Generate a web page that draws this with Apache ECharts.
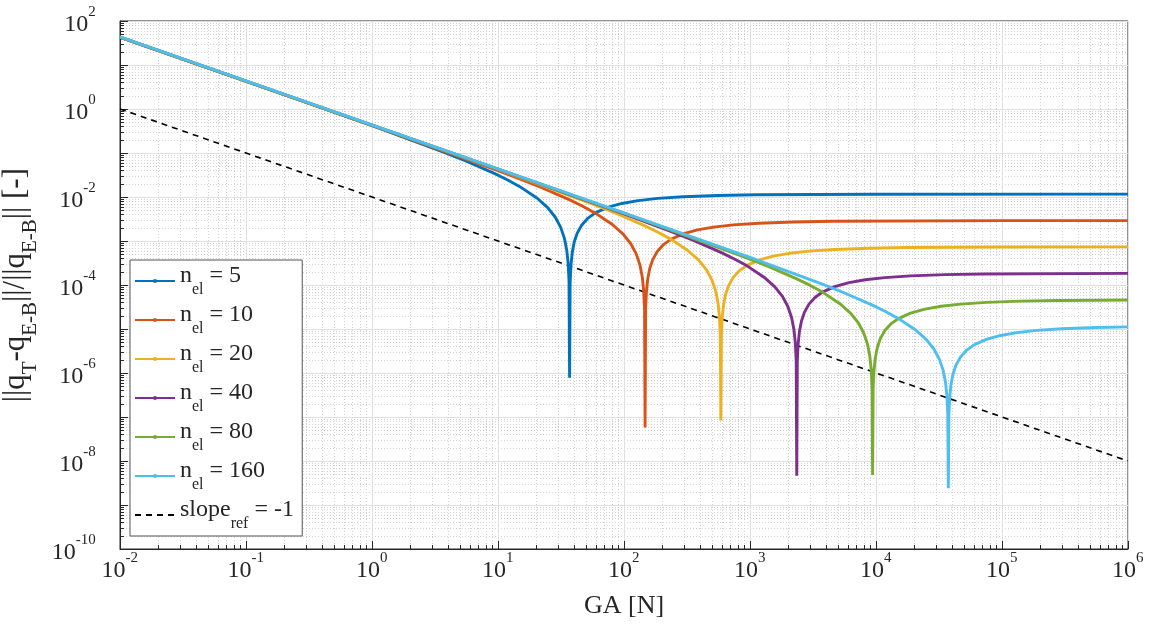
<!DOCTYPE html>
<html>
<head>
<meta charset="utf-8">
<script src="https://cdn.jsdelivr.net/npm/echarts@6/dist/echarts.min.js"></script>
<style>
  html, body { margin: 0; padding: 0; background: #fff; }
  #chart { width: 1151px; height: 633px; }
</style>
</head>
<body>
<div id="chart"></div>
<script>
// GA [N] samples and relative error per mesh size
const gaN5 = [0.01, 0.1, 1, 3.7, 5.55, 9.25, 11.84, 14.8, 20.35, 24.79, 28.49, 31.45, 33.67, 35.15, 36.08, 36.63, 37, 37.37, 37.93, 38.85, 40.33, 42.55, 46.25, 51.8, 59.2, 74, 96.2, 129.5, 185, 296, 555, 1110, 10000, 1000000];
const errN5 = [42.9, 4.28, 0.4176, 0.1044, 0.0658, 0.0348, 0.02465, 0.0174, 0.00949, 0.00572, 0.00347, 0.00204, 0.001147, 0.00061, 0.000297, 0.000117, 7.8e-7, 0.000115, 0.000283, 0.000552, 0.000958, 0.001508, 0.00232, 0.00332, 0.00435, 0.0058, 0.00713, 0.00828, 0.00928, 0.01015, 0.01082, 0.01122, 0.01156, 0.0116];

const gaN10 = [0.01, 0.1, 1, 10, 14.7, 22.05, 36.75, 47.04, 58.8, 80.85, 98.49, 113.2, 124.95, 133.77, 139.65, 143.33, 145.53, 147, 148.47, 150.68, 154.35, 160.23, 169.05, 183.75, 205.8, 235.2, 294, 382.2, 514.5, 735, 1176, 2205, 4410, 100000, 1000000];
const errN10 = [42.6, 4.26, 0.4234, 0.0397, 0.0261, 0.01644, 0.0087, 0.00616, 0.00435, 0.002372, 0.00143, 0.000867, 0.00051, 0.000287, 0.0001525, 7.42e-5, 2.93e-5, 5.8e-8, 2.87e-5, 7.08e-5, 0.000138, 0.00024, 0.000377, 0.00058, 0.000829, 0.001088, 0.00145, 0.001784, 0.00207, 0.00232, 0.002538, 0.002706, 0.002804, 0.0029, 0.0029];

const gaN20 = [0.01, 0.1, 1, 10, 58.7, 88.05, 146.75, 187.84, 234.8, 322.85, 393.29, 451.99, 498.95, 534.17, 557.65, 572.33, 581.13, 587, 592.87, 601.68, 616.35, 639.83, 675.05, 733.75, 821.8, 939.2, 1174, 1526.2, 2054.5, 2935, 4696, 8805, 17610, 100000, 1000000];
const errN20 = [43.1, 4.31, 0.4307, 0.0424, 0.006615, 0.004167, 0.002205, 0.001562, 0.0011025, 0.000601, 0.000362, 0.00022, 0.0001294, 7.27e-5, 3.87e-5, 1.88e-5, 7.42e-6, 8.3e-8, 7.28e-6, 1.79e-5, 3.5e-5, 6.07e-5, 9.56e-5, 0.000147, 0.00021, 0.000276, 0.000368, 0.000452, 0.000525, 0.000588, 0.000643, 0.000686, 0.000711, 0.000731, 0.000735];

const gaN40 = [0.01, 0.1, 1, 10, 100, 235, 352.5, 587.5, 752, 940, 1292.5, 1574.5, 1809.5, 1997.5, 2138.5, 2232.5, 2291.25, 2326.5, 2350, 2373.5, 2408.75, 2467.5, 2561.5, 2702.5, 2937.5, 3290, 3760, 4700, 6110, 8225, 11750, 18800, 35250, 70500, 1000000];
const errN40 = [43.2, 4.32, 0.432, 0.0432, 0.00414, 0.001656, 0.001043, 0.000552, 0.000391, 0.000276, 0.0001505, 9.07e-5, 5.5e-5, 3.24e-5, 1.82e-5, 9.68e-6, 4.71e-6, 1.86e-6, 4.6e-9, 1.82e-6, 4.49e-6, 8.76e-6, 1.52e-5, 2.39e-5, 3.68e-5, 5.26e-5, 6.9e-5, 9.2e-5, 0.0001132, 0.0001314, 0.0001472, 0.000161, 0.0001717, 0.0001779, 0.000184];

const gaN80 = [0.01, 0.1, 1, 10, 100, 940, 1410, 2350, 3008, 3760, 5170, 6298, 7238, 7990, 8554, 8930, 9165, 9306, 9400, 9494, 9635, 9870, 10246, 10810, 11750, 13160, 15040, 18800, 24440, 32900, 47000, 75200, 141000, 282000, 1000000];
const errN80 = [43.2, 4.32, 0.432, 0.0432, 0.00427, 0.000414, 0.000261, 0.000138, 9.78e-5, 6.9e-5, 3.76e-5, 2.27e-5, 1.375e-5, 8.1e-6, 4.55e-6, 2.42e-6, 1.18e-6, 4.65e-7, 4.8e-9, 4.55e-7, 1.12e-6, 2.19e-6, 3.8e-6, 5.98e-6, 9.2e-6, 1.316e-5, 1.725e-5, 2.3e-5, 2.83e-5, 3.28e-5, 3.68e-5, 4.03e-5, 4.29e-5, 4.45e-5, 4.56e-5];

const gaN160 = [0.01, 0.1, 1, 10, 100, 1000, 3750, 5625, 9375, 12000, 15000, 20625, 25125, 28875, 31875, 34125, 35625, 36562.5, 37125, 37500, 37875, 38437.5, 39375, 40875, 43125, 46875, 52500, 60000, 75000, 97500, 131250, 187500, 300000, 562500, 1000000];
const errN160 = [43.5, 4.35, 0.435, 0.0435, 0.00434, 0.000423, 0.0001044, 6.58e-5, 3.48e-5, 2.465e-5, 1.74e-5, 9.49e-6, 5.72e-6, 3.47e-6, 2.04e-6, 1.147e-6, 6.1e-7, 2.97e-7, 1.17e-7, 2.4e-9, 1.15e-7, 2.83e-7, 5.52e-7, 9.58e-7, 1.508e-6, 2.32e-6, 3.32e-6, 4.35e-6, 5.8e-6, 7.13e-6, 8.28e-6, 9.28e-6, 1.015e-5, 1.082e-5, 1.12e-5];

// reference slope -1
const gaRef = [0.01, 1000000];
const errRef = [1, 1e-8];

const meshSizes = ['5', '10', '20', '40', '80', '160'];
const meshColors = ['#0072BD', '#D95319', '#EDB120', '#7E2F8E', '#77AC30', '#4DBEEE'];

// axis decades (exponents)
const xDecades = [-2, -1, 0, 1, 2, 3, 4, 5, 6];
const yDecades = [-10, -9, -8, -7, -6, -5, -4, -3, -2, -1, 0, 1, 2];

const FONT = 'Liberation Serif';
const INK = '#262626';

function pairs(xs, ys) {
    return xs.map((x, i) => [x, ys[i]]);
}

// minor grid at 2..9 x 10^k
function minorValues(decades) {
    const out = [];
    for (let i = 0; i < decades.length - 1; i++) {
        for (let m = 2; m <= 9; m++) out.push(m * Math.pow(10, decades[i]));
    }
    return out;
}

// "10" with a raised exponent; sp only sets the line height
const powRich = {
    b: { fontFamily: FONT, fontSize: 24, lineHeight: 24, color: INK, verticalAlign: 'bottom' },
    e: { fontFamily: FONT, fontSize: 15, lineHeight: 15, color: INK, verticalAlign: 'top' },
    sp: { fontSize: 1, lineHeight: 32 }
};

function powLabel(v) {
    return '{b|10}{e|' + Math.round(Math.log10(v)) + '}{sp| }';
}

const chart = echarts.init(document.getElementById('chart'));

const meshData = [
    pairs(gaN5, errN5), pairs(gaN10, errN10), pairs(gaN20, errN20),
    pairs(gaN40, errN40), pairs(gaN80, errN80), pairs(gaN160, errN160)
];

const series = meshData.map((d, i) => ({
    name: 'n' + meshSizes[i],
    type: 'line',
    data: d,
    showSymbol: false,
    symbol: 'circle',
    lineStyle: { width: 2.9, color: meshColors[i] },
    itemStyle: { color: meshColors[i] },
    z: 3 + i
}));

series.push({
    name: 'ref',
    type: 'line',
    data: pairs(gaRef, errRef),
    showSymbol: false,
    symbol: 'none',
    lineStyle: { width: 1.6, color: '#000', type: [6, 5] },
    itemStyle: { color: '#000' },
    z: 2
});

const gridLine = { color: '#e0e0e0', width: 1 };
const minorLine = { color: '#d2d2d2', width: 1, type: [1, 2] };

const legendRich = {
    t: { fontFamily: FONT, fontSize: 24, lineHeight: 22, color: INK, verticalAlign: 'top' },
    s: { fontFamily: FONT, fontSize: 16, lineHeight: 14, color: INK, verticalAlign: 'bottom' },
    sp: { fontSize: 1, lineHeight: 34 }
};

const option = {
    animation: false,
    backgroundColor: '#fff',
    grid: {
        left: 120, right: 23, top: 21, bottom: 84,
        containLabel: false,
        outerBoundsMode: 'none',
        show: true, borderColor: INK, borderWidth: 1
    },
    legend: {
        orient: 'vertical',
        left: 130, top: 260,
        padding: [4, 8, 4, 4],
        itemWidth: 40,
        itemHeight: 5,
        itemGap: 5,
        backgroundColor: '#fff',
        borderColor: '#555',
        borderWidth: 1,
        borderRadius: 0,
        data: series.map(s => (s.name === 'ref' ? { name: 'ref', itemStyle: { opacity: 0 } } : s.name)),
        formatter: name => {
            if (name === 'ref') return '{t|slope}{s|ref}{t| = -1}{sp| }';
            return '{t|n}{s|el}{t| = ' + name.slice(1) + '}{sp| }';
        },
        textStyle: { rich: legendRich }
    },
    xAxis: [{
        type: 'log',
        min: 0.01, max: 1000000,
        interval: 1,
        name: 'GA [N]',
        nameLocation: 'middle',
        nameGap: 44,
        nameTextStyle: { fontFamily: FONT, fontSize: 26, color: INK },
        axisLine: { show: true, lineStyle: { color: INK } },
        axisTick: { show: true, inside: true, length: 8, lineStyle: { color: INK } },
        axisLabel: { margin: 2, formatter: powLabel, rich: powRich },
        splitLine: { show: true, lineStyle: gridLine }
    }, {
        type: 'log',
        min: 0.01, max: 1000000,
        position: 'bottom',
        axisLine: { show: false },
        axisLabel: { show: false },
        axisTick: { show: true, inside: true, length: 4, customValues: minorValues(xDecades), lineStyle: { color: INK } },
        splitLine: { show: true, lineStyle: minorLine }
    }],
    yAxis: [{
        type: 'log',
        min: 1e-10, max: 100,
        interval: 1,
        name: '{t|||q}{s|T}{t|-q}{s|E-B}{t|||/||q}{s|E-B}{t||| [-]}{sp| }',
        nameLocation: 'middle',
        nameGap: 78,
        nameRotate: 90,
        nameTextStyle: {
            rich: {
                t: { fontFamily: FONT, fontSize: 31, lineHeight: 30, color: INK, verticalAlign: 'top' },
                s: { fontFamily: FONT, fontSize: 21, lineHeight: 19, color: INK, verticalAlign: 'bottom' },
                sp: { fontSize: 1, lineHeight: 40 }
            }
        },
        axisLine: { show: true, lineStyle: { color: INK } },
        axisTick: { show: true, inside: true, length: 8, lineStyle: { color: INK } },
        axisLabel: {
            margin: 24,
            formatter: v => (Math.round(Math.log10(v)) % 2 === 0 ? powLabel(v) : ''),
            rich: powRich
        },
        splitLine: { show: true, lineStyle: gridLine }
    }, {
        type: 'log',
        min: 1e-10, max: 100,
        position: 'left',
        axisLine: { show: false },
        axisLabel: { show: false },
        axisTick: { show: true, inside: true, length: 4, customValues: minorValues(yDecades), lineStyle: { color: INK } },
        splitLine: { show: true, lineStyle: minorLine }
    }],
    series: series
};

chart.setOption(option);
</script>
</body>
</html>
